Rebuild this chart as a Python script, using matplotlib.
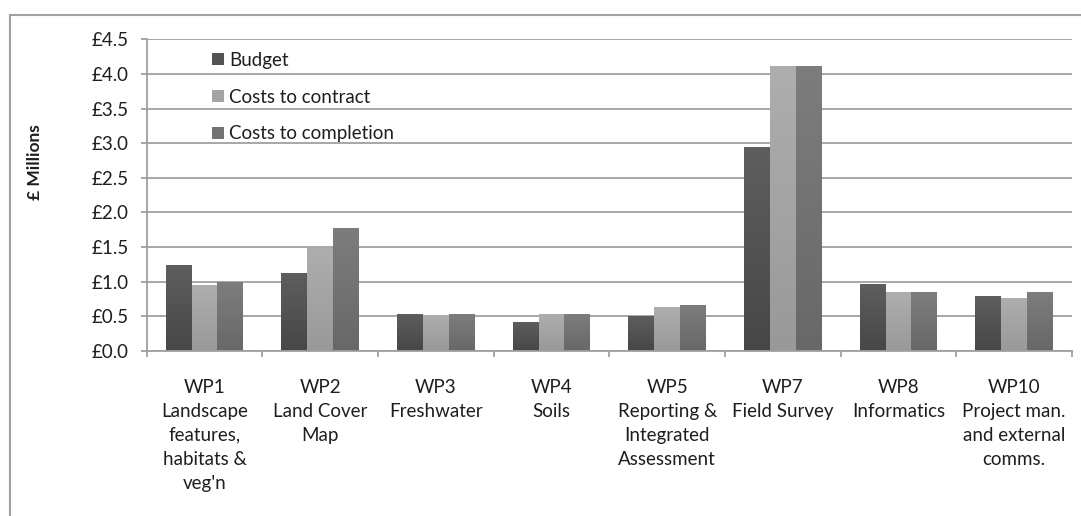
import matplotlib
matplotlib.use("Agg")
import matplotlib.pyplot as plt
import numpy as np
from matplotlib.patches import Rectangle
from matplotlib.colors import LinearSegmentedColormap

categories = ["WP1\nLandscape\nfeatures,\nhabitats &\nveg'n",
              "WP2\nLand Cover\nMap",
              "WP3\nFreshwater",
              "WP4\nSoils",
              "WP5\nReporting &\nIntegrated\nAssessment",
              "WP7\nField Survey",
              "WP8\nInformatics",
              "WP10\nProject man.\nand external\ncomms."]
series_names = ["Budget", "Costs to contract", "Costs to completion"]
budget = [1.24, 1.13, 0.54, 0.42, 0.51, 2.94, 0.97, 0.80]
contract = [0.95, 1.48, 0.51, 0.54, 0.63, 4.12, 0.85, 0.77]
completion = [0.99, 1.78, 0.54, 0.54, 0.67, 4.12, 0.85, 0.85]
yticks = [0.0, 0.5, 1.0, 1.5, 2.0, 2.5, 3.0, 3.5, 4.0, 4.5]
ytick_labels = ["£%.1f" % v for v in yticks]

colors = ["#535353", "#a4a4a4", "#737373"]
grad_top = ["#5e5e5e", "#aeaeae", "#7d7d7d"]
grad_bot = ["#474747", "#999999", "#686868"]
FONT = "Lato"
FS = 13.5
TXT = "#1e1e1e"
GRID = "#a0a0a0"

W, H = 1081, 516
fig = plt.figure(figsize=(W / 100, H / 100), dpi=100)
fig.patch.set_facecolor("white")

# outer chart frame (cropped at right and bottom)
fig.add_artist(Rectangle((10 / W, -0.05), 1.2, (H - 15) / H + 0.05,
                         transform=fig.transFigure, fill=False,
                         edgecolor=GRID, linewidth=1.5))

ax = fig.add_axes([146.7 / W, (H - 351) / H, (1072 - 146.7) / W, (351 - 39.3) / H])
x = np.arange(len(categories))
bw = 0.224
grad = np.linspace(1, 0, 64).reshape(-1, 1)
for i, (vals, c, name) in enumerate(zip([budget, contract, completion], colors, series_names)):
    bars = ax.bar(x + (i - 1) * bw, vals, width=bw, color=c, label=name, zorder=3,
                  edgecolor="none")
    cmap = LinearSegmentedColormap.from_list("g%d" % i, [grad_bot[i], grad_top[i]])
    for b in bars:
        x0, y0 = b.get_x(), b.get_y()
        im = ax.imshow(grad, cmap=cmap, vmin=0, vmax=1, aspect="auto",
                       extent=(x0, x0 + b.get_width(), y0, y0 + b.get_height()),
                       zorder=3.5, interpolation="bilinear")
        im.set_clip_path(b)

ax.set_xlim(-0.5, len(categories) - 0.5)
ax.set_ylim(0, 4.5)
ax.set_aspect("auto")
ax.set_yticks(yticks)
ax.set_yticklabels(ytick_labels, fontsize=FS, family=FONT, color=TXT)
ax.yaxis.grid(True, color=GRID, linewidth=1.3, zorder=0)
ax.set_axisbelow(True)

ax.set_xticks(np.arange(len(categories) + 1) - 0.5, minor=False)
ax.set_xticklabels([])
ax.set_xticks(x, minor=True)
ax.set_xticklabels(categories, minor=True, fontsize=FS, family=FONT, color=TXT,
                   linespacing=1.5, ha="center", va="top")
ax.tick_params(axis="x", which="minor", length=0, pad=20)
ax.tick_params(axis="x", which="major", length=4.5, width=1.3, color=GRID)
ax.tick_params(axis="y", length=4, width=1.3, color=GRID, pad=9)

for s in ["top", "right"]:
    ax.spines[s].set_visible(False)
for s in ["left", "bottom"]:
    ax.spines[s].set_color(GRID)
    ax.spines[s].set_linewidth(1.3)
    ax.spines[s].set_zorder(4)

fig.text(35 / W, 1 - 162 / H, "£ Millions", rotation=90, ha="center", va="center",
         fontsize=12.5, fontweight="bold", family=FONT, color=TXT)

leg = ax.legend(loc="upper left", bbox_to_anchor=(212 / W, 1 - 52 / H),
                bbox_transform=fig.transFigure, frameon=False,
                prop={"family": FONT, "size": FS}, handlelength=0.62,
                handleheight=0.62, handletextpad=0.3, labelspacing=1.05,
                borderpad=0, borderaxespad=0)
for t in leg.get_texts():
    t.set_color(TXT)
for h, c in zip(leg.legend_handles, colors):
    h.set_facecolor(c)

fig.savefig("out.png", dpi=100)
